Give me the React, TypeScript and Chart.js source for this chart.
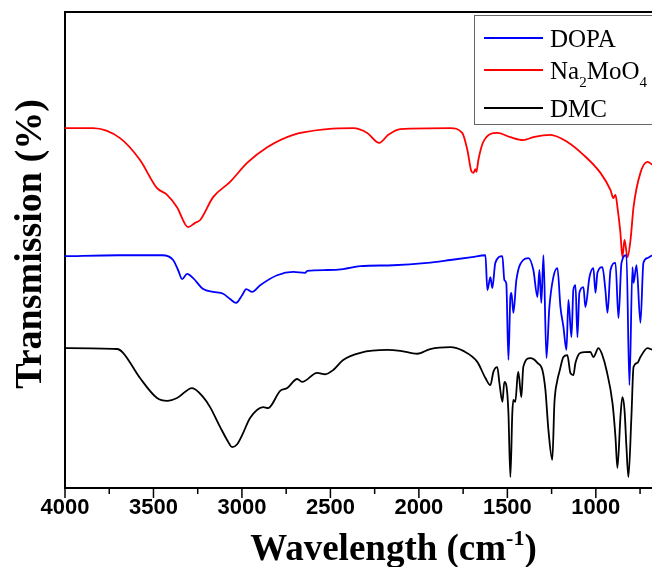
import React, { useEffect, useRef } from "react";
import { Chart, registerables } from "chart.js";

Chart.register(...registerables);

// ---- Data (wavenumber in cm-1, transmission in arbitrary offset units) ----
const DOPA_WN = [4000, 3700, 3450, 3389, 3361, 3338, 3310, 3276, 3219, 3163, 3106, 3067, 3033, 2999, 2976, 2942, 2897, 2801, 2710, 2643, 2631, 2518, 2428, 2331, 2145, 1953, 1822, 1700, 1624, 1613, 1596, 1585, 1568, 1528, 1517, 1506, 1494, 1483, 1477, 1466, 1449, 1410, 1381, 1353, 1330, 1319, 1308, 1296, 1279, 1263, 1240, 1217, 1200, 1183, 1166, 1155, 1138, 1127, 1115, 1104, 1093, 1070, 1059, 1036, 1014, 1002, 991, 963, 946, 934, 917, 889, 872, 855, 827, 810, 793, 787, 770, 748, 731, 708, 680, 640];
const DOPA_T = [48.7, 48.9, 48.9, 47.9, 45.8, 43.9, 45.0, 44.1, 41.8, 41.2, 40.8, 39.7, 38.9, 40.5, 41.8, 41.2, 42.6, 44.7, 45.4, 45.2, 45.6, 45.8, 46.0, 46.6, 46.8, 47.3, 47.9, 48.5, 48.9, 41.6, 44.3, 42.0, 47.3, 48.7, 43.7, 43.0, 26.9, 40.1, 41.0, 36.8, 43.7, 47.9, 48.3, 45.8, 40.1, 45.8, 38.9, 48.9, 27.3, 37.8, 44.3, 46.2, 38.0, 33.8, 29.0, 39.5, 31.7, 41.6, 42.6, 31.7, 41.0, 42.2, 38.0, 44.3, 46.2, 41.0, 45.2, 46.4, 41.6, 36.8, 45.8, 47.3, 35.7, 47.3, 48.9, 21.6, 46.4, 43.1, 46.8, 34.7, 47.3, 48.3, 48.9, 49.2];

const NAMOO_WN = [4000, 3842, 3689, 3576, 3480, 3423, 3367, 3304, 3265, 3236, 3163, 3067, 2971, 2857, 2710, 2518, 2371, 2292, 2224, 2173, 2105, 1822, 1755, 1726, 1704, 1692, 1681, 1675, 1664, 1636, 1557, 1483, 1410, 1353, 1257, 1161, 1070, 974, 917, 901, 889, 878, 861, 850, 838, 821, 804, 787, 748, 708, 680, 640];
const NAMOO_T = [75.6, 75.6, 73.5, 68.9, 63.0, 61.6, 59.0, 54.8, 55.7, 56.3, 61.1, 64.3, 68.3, 71.6, 74.2, 75.4, 75.6, 74.6, 72.5, 74.2, 75.4, 75.6, 74.6, 71.0, 66.6, 66.2, 67.0, 66.4, 68.9, 72.7, 74.6, 73.7, 73.1, 73.7, 74.2, 72.7, 70.0, 66.2, 62.6, 60.9, 61.6, 59.0, 53.6, 48.5, 52.1, 48.5, 52.1, 59.0, 66.2, 68.5, 67.9, 67.0];

const DMC_WN = [4000, 3706, 3672, 3576, 3480, 3423, 3367, 3282, 3219, 3180, 3123, 3084, 3055, 3027, 2999, 2954, 2880, 2852, 2784, 2744, 2688, 2660, 2575, 2529, 2484, 2428, 2331, 2179, 2105, 2009, 1936, 1822, 1749, 1670, 1624, 1596, 1579, 1557, 1545, 1528, 1517, 1506, 1494, 1483, 1472, 1466, 1455, 1443, 1438, 1421, 1410, 1370, 1353, 1330, 1302, 1285, 1268, 1246, 1234, 1217, 1206, 1183, 1161, 1144, 1127, 1115, 1087, 1031, 1014, 985, 963, 940, 906, 889, 878, 861, 850, 838, 827, 816, 799, 787, 765, 748, 708, 680, 640];
const DMC_T = [29.4, 29.2, 28.4, 23.1, 18.9, 18.3, 18.9, 21.0, 19.1, 17.0, 12.8, 10.1, 8.6, 9.2, 11.1, 14.7, 17.0, 16.8, 20.4, 21.0, 22.9, 22.3, 24.2, 23.9, 24.8, 26.9, 28.4, 29.0, 28.8, 28.2, 29.2, 29.6, 28.8, 26.5, 23.1, 21.6, 24.4, 25.4, 22.1, 18.1, 22.3, 21.6, 15.8, 2.3, 15.8, 18.5, 18.1, 23.3, 24.4, 19.1, 25.4, 27.3, 27.1, 26.3, 24.8, 20.6, 12.2, 5.9, 17.9, 22.7, 24.4, 27.5, 27.9, 24.2, 23.7, 26.3, 28.4, 28.6, 27.5, 29.4, 27.9, 24.8, 17.9, 10.7, 4.2, 14.9, 19.1, 16.4, 8.6, 2.3, 14.9, 25.4, 26.3, 27.5, 29.4, 29.0, 28.8];

const SERIES_LABELS = ["DOPA", "Na_2MoO_4", "DMC"];
const SERIES_COLORS = ["#0000ff", "#ff0000", "#000000"];

const X_TICKS = [4000, 3750, 3500, 3250, 3000, 2750, 2500, 2250, 2000, 1750, 1500, 1250, 1000, 750, 500];
const X_TICK_LABELS = ["4000", "3500", "3000", "2500", "2000", "1500", "1000"];
const X_MIN = 400;
const X_MAX = 4000;
const X_TITLE = "Wavelength (cm^{-1})";
const Y_TITLE = "Transmission (%)";

const CANVAS_W = 704;
const CANVAS_H = 567;
const SERIF = "'Liberation Serif', 'Times New Roman', serif";
const SANS = "'Liberation Sans', Arial, sans-serif";

type Part = { t: string; k: "n" | "sub" | "sup"; w?: number };

function drawRich(
  ctx: CanvasRenderingContext2D,
  text: string,
  x: number,
  y: number,
  size: number,
  weight: string,
  family: string,
  align: "left" | "center"
) {
  const parts: Part[] = [];
  const re = /([_^])(\{[^}]*\}|.)/g;
  let last = 0;
  let m: RegExpExecArray | null;
  while ((m = re.exec(text))) {
    if (m.index > last) parts.push({ t: text.slice(last, m.index), k: "n" });
    const body = m[2].startsWith("{") ? m[2].slice(1, -1) : m[2];
    parts.push({ t: body, k: m[1] === "_" ? "sub" : "sup" });
    last = re.lastIndex;
  }
  if (last < text.length) parts.push({ t: text.slice(last), k: "n" });
  const fontFor = (k: string) =>
    `${weight} ${k === "n" ? size : Math.round(size * 0.6)}px ${family}`;
  let total = 0;
  for (const p of parts) {
    ctx.font = fontFor(p.k);
    p.w = ctx.measureText(p.t).width;
    total += p.w;
  }
  let cx = align === "center" ? x - total / 2 : x;
  ctx.textAlign = "left";
  ctx.textBaseline = "alphabetic";
  for (const p of parts) {
    ctx.font = fontFor(p.k);
    const dy = p.k === "sub" ? size * 0.32 : p.k === "sup" ? -size * 0.4 : 0;
    ctx.fillText(p.t, cx, y + dy);
    cx += p.w || 0;
  }
}

const decorPlugin = {
  id: "decor",
  afterDraw(chart: any) {
    const { ctx, chartArea, scales } = chart;
    const xs = scales.x;
    ctx.save();
    // frame (top and right)
    ctx.strokeStyle = "#000";
    ctx.lineWidth = 2;
    ctx.beginPath();
    ctx.moveTo(chartArea.left, chartArea.top);
    ctx.lineTo(chartArea.right, chartArea.top);
    ctx.lineTo(chartArea.right, chartArea.bottom);
    ctx.stroke();
    // x ticks (major / minor)
    ctx.lineWidth = 1.5;
    for (const v of X_TICKS) {
      const px = xs.getPixelForValue(v);
      const len = v % 500 === 0 ? 10 : 6;
      ctx.beginPath();
      ctx.moveTo(px, chartArea.bottom);
      ctx.lineTo(px, chartArea.bottom + len);
      ctx.stroke();
    }
    // axis titles
    ctx.fillStyle = "#000";
    drawRich(ctx, X_TITLE, (chartArea.left + chartArea.right) / 2 + 10, 560, 37, "bold", SERIF, "center");
    ctx.save();
    ctx.translate(29, (chartArea.top + chartArea.bottom) / 2 - 6);
    ctx.rotate(-Math.PI / 2);
    drawRich(ctx, Y_TITLE, 0, 12, 38, "bold", SERIF, "center");
    ctx.restore();
    // legend
    const bx = 474, by = 15, bw = chartArea.right - 2 - 474, bh = 109;
    ctx.fillStyle = "#fff";
    ctx.fillRect(bx, by, bw, bh);
    ctx.strokeStyle = "#666";
    ctx.lineWidth = 1;
    ctx.strokeRect(bx + 0.5, by + 0.5, bw, bh);
    const rows = [
      { line: 38, base: 47 },
      { line: 70, base: 79 },
      { line: 108, base: 117 },
    ];
    const order = [0, 1, 2];
    order.forEach((di, i) => {
      const ds = chart.data.datasets[di];
      ctx.strokeStyle = ds.borderColor;
      ctx.lineWidth = 2;
      ctx.beginPath();
      ctx.moveTo(484, rows[i].line);
      ctx.lineTo(543, rows[i].line);
      ctx.stroke();
      ctx.fillStyle = "#000";
      drawRich(ctx, ds.label, 550, rows[i].base, 25, "normal", SERIF, "left");
    });
    ctx.restore();
  },
};

function toPoints(wn: number[], t: number[]) {
  return wn.map((w, i) => ({ x: w, y: t[i] }));
}

export default function App() {
  const ref = useRef<HTMLCanvasElement | null>(null);
  useEffect(() => {
    if (!ref.current) return;
    const seriesData = [
      toPoints(DOPA_WN, DOPA_T),
      toPoints(NAMOO_WN, NAMOO_T),
      toPoints(DMC_WN, DMC_T),
    ];
    const chart = new Chart(ref.current, {
      type: "line",
      data: {
        datasets: seriesData.map((d, i) => ({
          label: SERIES_LABELS[i],
          data: d,
          borderColor: SERIES_COLORS[i],
          backgroundColor: SERIES_COLORS[i],
          borderWidth: 1.8,
          pointRadius: 0,
          cubicInterpolationMode: "monotone" as const,
          fill: false,
        })),
      },
      options: {
        responsive: false,
        animation: false,
        events: [],
        layout: { padding: { top: 12, right: 2, left: 0, bottom: 0 } },
        plugins: { legend: { display: false }, tooltip: { enabled: false } },
        scales: {
          x: {
            type: "linear",
            reverse: true,
            min: X_MIN,
            max: X_MAX,
            afterBuildTicks: (s: any) => {
              s.ticks = X_TICKS.map((v) => ({ value: v }));
            },
            afterFit: (s: any) => {
              s.height = CANVAS_H - 488;
            },
            ticks: {
              autoSkip: false,
              maxRotation: 0,
              padding: 7,
              color: "#000",
              font: { family: SANS, size: 22, weight: "bold" },
              callback: (v: any) => (X_TICK_LABELS.includes(String(v)) ? String(v) : ""),
            },
            grid: { display: false, drawTicks: false },
            border: { display: true, color: "#000", width: 2 },
          },
          y: {
            type: "linear",
            min: 0,
            max: 100,
            afterFit: (s: any) => {
              s.width = 65;
            },
            ticks: { display: false },
            grid: { display: false, drawTicks: false },
            border: { display: true, color: "#000", width: 2 },
          },
        },
      },
      plugins: [decorPlugin],
    });
    return () => chart.destroy();
  }, []);
  return (
    <div
      style={{
        position: "absolute",
        left: 0,
        top: 0,
        width: 652,
        height: 567,
        overflow: "hidden",
        background: "#fff",
      }}
    >
      <canvas ref={ref} width={CANVAS_W} height={CANVAS_H} style={{ display: "block" }} />
    </div>
  );
}
